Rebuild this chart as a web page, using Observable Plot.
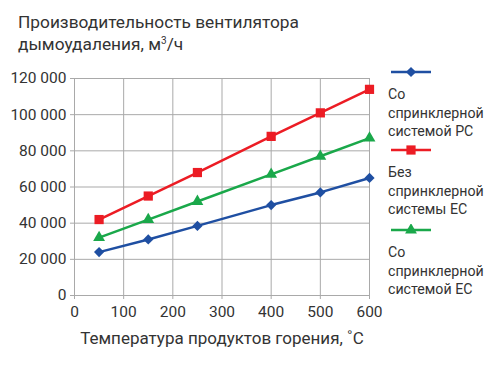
<!DOCTYPE html>
<html><head><meta charset="utf-8">
<script src="https://cdn.jsdelivr.net/npm/d3@7"></script>
<script src="https://cdn.jsdelivr.net/npm/@observablehq/plot@0.6"></script>
<style>
body{margin:0;background:#fff;font-family:Roboto,sans-serif;color:#333}
#wrap{position:relative;width:500px;height:373px;overflow:hidden;background:#fff}
#title{position:absolute;left:18px;top:11px;font-size:17.3px;line-height:22px;white-space:nowrap}
#chart{position:absolute;left:0;top:55px}
.leg{position:absolute;left:388px;font-size:14.2px;line-height:18.5px;white-space:nowrap}
.leg svg{display:block;margin-left:1px;margin-bottom:7px}
</style></head><body>
<div id="wrap">
  <div id="title">Производительность вентилятора<br>дымоудаления, м<sup style="font-size:10px;vertical-align:6px;line-height:0">3</sup>/ч</div>
  <div id="chart"></div>
  <div id="legend"></div>
</div>
<script>
const temps = [50, 150, 250, 400, 500, 600];
const seriesNames = ["Со спринклерной системой РС", "Без спринклерной системы ЕС", "Со спринклерной системой ЕС"];
const legendLines = [["Со", "спринклерной", "системой РС"], ["Без", "спринклерной", "системы ЕС"], ["Со", "спринклерной", "системой ЕС"]];
const blueValues = [24000, 31000, 38500, 50000, 57000, 65000];
const redValues = [42000, 55000, 68000, 88000, 101000, 114000];
const greenValues = [32000, 42000, 52000, 67000, 77000, 87000];
const xTicks = [0, 100, 200, 300, 400, 500, 600];
const yTicks = [0, 20000, 40000, 60000, 80000, 100000, 120000];
const xLabel = "Температура продуктов горения, ˚C";

const colors = ["#1f4fa2", "#ec1c24", "#1aa84a"];
const symbols = ["diamond2", "square", "triangle"];
const radii = [4.6, 5.2, 4.4];
const valuesBySeries = [blueValues, redValues, greenValues];

const data = [];
valuesBySeries.forEach((vals, i) => vals.forEach((v, j) => data.push({series: seriesNames[i], t: temps[j], v})));

const fmt = d => d3.format(",")(d).replace(/,/g, " ");

const marks = [
  Plot.gridX(xTicks, {stroke: "#a9a9a9", strokeOpacity: 1, strokeWidth: 1}),
  Plot.gridY(yTicks, {stroke: "#a9a9a9", strokeOpacity: 1, strokeWidth: 1}),
  Plot.axisX(xTicks, {tickSize: 4, tickPadding: 6, stroke: "#a9a9a9", label: null, fill: "#333", fontSize: 15.5}),
  Plot.axisY(yTicks, {tickSize: 4, tickPadding: 4, tickFormat: fmt, stroke: "#a9a9a9", label: null, fill: "#333", fontSize: 15.5}),
  Plot.text([xLabel], {frameAnchor: "bottom", dy: 48, fontSize: 17, fill: "#333"})
];
seriesNames.forEach((name, i) => {
  const d = data.filter(r => r.series === name);
  marks.push(Plot.line(d, {x: "t", y: "v", stroke: colors[i], strokeWidth: 2.5}));
  marks.push(Plot.dot(d, {x: "t", y: "v", fill: colors[i], stroke: "none", symbol: () => symbols[i], r: radii[i]}));
});

const chart = Plot.plot({
  width: 500,
  height: 300,
  marginLeft: 74,
  marginRight: 131,
  marginTop: 23,
  marginBottom: 60,
  style: {fontFamily: "Roboto, sans-serif", fontSize: "15px", color: "#333", background: "#fff"},
  x: {domain: [0, 600], label: null},
  y: {domain: [0, 120000], label: null},
  marks
});
document.getElementById("chart").appendChild(chart);

// legend
const legendTops = [66, 144, 224];
const symMap = {diamond2: d3.symbolDiamond2, square: d3.symbolSquare, triangle: d3.symbolTriangle};
const legend = document.getElementById("legend");
seriesNames.forEach((name, i) => {
  const div = document.createElement("div");
  div.className = "leg";
  div.style.top = legendTops[i] + "px";
  const r = radii[i];
  const path = d3.symbol(symMap[symbols[i]], Math.PI * r * r)();
  div.innerHTML = `<svg width="44" height="12"><line x1="2" x2="42" y1="6" y2="6" stroke="${colors[i]}" stroke-width="2.5"/><path transform="translate(22,6)" d="${path}" fill="${colors[i]}"/></svg>` + legendLines[i].join("<br>");
  legend.appendChild(div);
});
</script>
</body></html>
